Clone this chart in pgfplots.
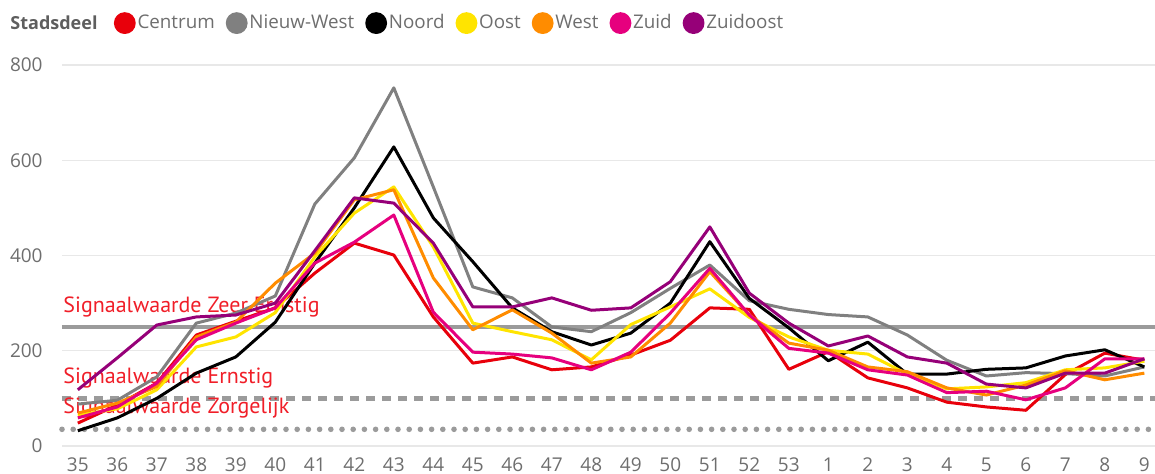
\documentclass[border=0pt]{standalone}
\usepackage{pgfplots}
\pgfplotsset{compat=1.18}
\usepackage{pgfplotstable}
\usepackage{fontspec}
\setmainfont{Open Sans}
\newfontfamily\ptsans{PT Sans}
\definecolor{cCentrum}{RGB}{232,0,11}
\definecolor{cNieuwWest}{RGB}{128,128,128}
\definecolor{cNoord}{RGB}{0,0,0}
\definecolor{cOost}{RGB}{255,228,0}
\definecolor{cWest}{RGB}{255,140,0}
\definecolor{cZuid}{RGB}{230,0,126}
\definecolor{cZuidoost}{RGB}{150,0,120}
\definecolor{refgrey}{RGB}{155,155,155}
\definecolor{gridgrey}{RGB}{232,232,232}
\definecolor{txtgrey}{RGB}{110,110,110}
\definecolor{annred}{RGB}{240,30,40}
\pgfplotstableread{
x Centrum NieuwWest Noord Oost West Zuid Zuidoost
0  48  88  32  65  69  59 118
1  86  96  59  78  90  82 185
2 132 145 100 118 125 132 254
3 233 258 153 208 229 223 271
4 262 279 187 229 260 258 275
5 290 315 260 280 342 290 300
6 363 508 384 397 405 384 410
7 426 605 500 489 517 428 521
8 401 752 628 544 538 485 510
9 271 544 479 418 353 281 426
10 174 334 387 258 244 197 292
11 187 311 290 240 286 193 292
12 160 250 240 223 237 185 311
13 166 240 212 181 174 160 285
14 191 280 237 255 187 197 290
15 222 331 300 292 258 279 345
16 290 380 429 330 366 373 460
17 287 305 310 270 275 275 321
18 161 287 248 229 216 205 258
19 198 276 179 201 201 195 210
20 143 271 218 193 166 160 231
21 122 233 151 151 156 149 187
22 92 180 151 120 122 112 174
23 82 147 161 124 107 115 130
24 75 154 164 133 128 97 122
25 150 152 189 160 158 122 153
26 195 147 202 164 139 183 153
27 180 166 166 178 153 183 183
}\datatable
\begin{document}
\begin{tikzpicture}
\begin{axis}[
  at={(0,0)}, anchor=south west,
  scale only axis, width=546.5pt, height=190.5pt,
  xmin=-0.4, xmax=27.27, ymin=0, ymax=800,
  axis line style={draw=none},
  clip=false,
  xtick={0,...,27},
  xticklabels={35,36,37,38,39,40,41,42,43,44,45,46,47,48,49,50,51,52,53,1,2,3,4,5,6,7,8,9},
  ytick={0,200,400,600,800},
  major tick length=0pt,
  ymajorgrids, grid style={gridgrey, line width=0.75pt},
  /pgf/number format/assume math mode=true,
  ticklabel style={font=\fontsize{9.5}{11}\selectfont, text=txtgrey, inner sep=0pt},
  xticklabel style={anchor=center, yshift=-9.5pt},
  yticklabel style={anchor=east, xshift=-9.5pt},
  every axis plot/.append style={line width=1.5pt, mark=none, line join=round},
  legend style={draw=none, fill=none, inner sep=0pt, outer sep=0pt,
    at={(0.0475,1.110)}, anchor=west, legend columns=-1,
    font=\fontsize{9.4}{11}\selectfont, text=txtgrey,
    nodes={inner sep=0.9pt},
    /tikz/every even column/.append style={column sep=4.6pt}},
  legend cell align=left,
  legend image code/.code={\fill (4.7pt,0pt) circle (4.7pt);},
]
% reference lines (not in legend)
\addplot[refgrey, line width=2pt, forget plot] coordinates {(-0.4,250) (27.27,250)};
\addplot[refgrey, line width=2.2pt, dash pattern=on 4.5pt off 3.5pt, forget plot] coordinates {(-0.4,100) (27.27,100)};
\addplot[refgrey, line width=2.8pt, line cap=round, dash pattern=on 0pt off 5.6pt, forget plot] coordinates {(-0.4,35) (27.27,35)};
\addplot[draw=none, forget plot] coordinates {(-0.4,281)} node[pos=0, anchor=base west, inner sep=0pt, text=annred, font=\ptsans\fontsize{11}{13}\selectfont]{Signaalwaarde Zeer Ernstig};
\addplot[draw=none, forget plot] coordinates {(-0.4,132)} node[pos=0, anchor=base west, inner sep=0pt, text=annred, font=\ptsans\fontsize{11}{13}\selectfont]{Signaalwaarde Ernstig};
\addplot[draw=none, forget plot] coordinates {(-0.4,69)} node[pos=0, anchor=base west, inner sep=0pt, text=annred, font=\ptsans\fontsize{11}{13}\selectfont]{Signaalwaarde Zorgelijk};
% series
\addplot[color=cCentrum] table[x=x, y=Centrum] {\datatable};
\addlegendentry{Centrum}
\addplot[color=cNieuwWest] table[x=x, y=NieuwWest] {\datatable};
\addlegendentry{Nieuw-West}
\addplot[color=cNoord] table[x=x, y=Noord] {\datatable};
\addlegendentry{Noord}
\addplot[color=cOost] table[x=x, y=Oost] {\datatable};
\addlegendentry{Oost}
\addplot[color=cWest] table[x=x, y=West] {\datatable};
\addlegendentry{West}
\addplot[color=cZuid] table[x=x, y=Zuid] {\datatable};
\addlegendentry{Zuid}
\addplot[color=cZuidoost] table[x=x, y=Zuidoost] {\datatable};
\addlegendentry{Zuidoost}
\end{axis}
\node[anchor=west, inner sep=0pt, text=txtgrey!85!black, font=\fontsize{9}{11}\selectfont\bfseries] at (-26pt,211.5pt) {Stadsdeel};
\pgfresetboundingbox
\path[use as bounding box] (-31pt,-14pt) rectangle (546.5pt,223pt);
\end{tikzpicture}
\end{document}
